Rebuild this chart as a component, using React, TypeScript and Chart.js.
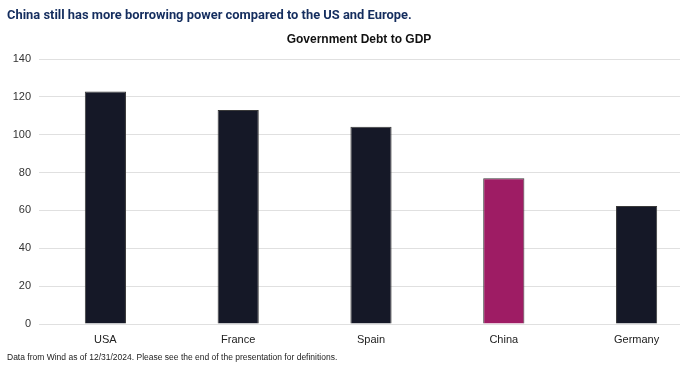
import React, { useEffect, useRef } from "react";
import { Chart, registerables } from "chart.js";

Chart.register(...registerables);

const categories = ["USA", "France", "Spain", "China", "Germany"];
const debtToGdp = [122.8, 113, 104.2, 77, 62.3];
const barColors = ["#151827", "#151827", "#151827", "#9E1C64", "#151827"];
const yTicks = [0, 20, 40, 60, 80, 100, 120, 140];

const headline = "China still has more borrowing power compared to the US and Europe.";
const chartTitle = "Government Debt to GDP";
const footnote = "Data from Wind as of 12/31/2024. Please see the end of the presentation for definitions.";

export default function App() {
  const ref = useRef<HTMLCanvasElement | null>(null);

  useEffect(() => {
    if (!ref.current) return;
    const chart = new Chart(ref.current, {
      type: "bar",
      data: {
        labels: categories,
        datasets: [
          {
            data: debtToGdp,
            backgroundColor: barColors,
            borderColor: "#3a3a3a",
            borderWidth: 1,
            categoryPercentage: 1,
            barPercentage: 0.31,
          },
        ],
      },
      options: {
        animation: false,
        responsive: false,
        maintainAspectRatio: false,
        layout: { padding: { top: 59, left: 0, right: 0, bottom: 0 } },
        plugins: { legend: { display: false }, tooltip: { enabled: false }, title: { display: false } },
        scales: {
          x: {
            grid: { display: false, drawTicks: false },
            border: { display: false },
            ticks: { color: "#222", font: { family: "Liberation Sans", size: 11 }, padding: 9 },
            afterFit: (s: any) => {
              s.height = 41;
            },
          },
          y: {
            min: 0,
            max: 140,
            afterBuildTicks: (s: any) => {
              s.ticks = yTicks.map((v) => ({ value: v }));
            },
            grid: { color: "#e0e0e0", lineWidth: 1, drawTicks: false },
            border: { display: false },
            ticks: { color: "#333", font: { family: "Liberation Sans", size: 11 }, padding: 8 },
            afterFit: (s: any) => {
              s.width = 39;
            },
          },
        },
      },
    });
    return () => chart.destroy();
  }, []);

  return (
    <div
      style={{
        position: "fixed",
        left: 0,
        top: 0,
        width: 680,
        height: 365,
        overflow: "hidden",
        background: "#fff",
      }}
    >
      <canvas ref={ref} width={703} height={365} style={{ position: "absolute", left: 0, top: 0 }} />
      <div
        style={{
          position: "absolute",
          left: 7,
          top: 7,
          fontFamily: "Roboto",
          fontWeight: 700,
          fontSize: 12.9,
          color: "#142D5E",
          whiteSpace: "nowrap",
        }}
      >
        {headline}
      </div>
      <div
        style={{
          position: "absolute",
          left: 0,
          width: 718,
          top: 32,
          textAlign: "center",
          fontFamily: "Liberation Sans",
          fontWeight: 700,
          fontSize: 12,
          color: "#111",
          whiteSpace: "nowrap",
        }}
      >
        {chartTitle}
      </div>
      <div
        style={{
          position: "absolute",
          left: 7,
          top: 352,
          fontFamily: "Liberation Sans",
          fontSize: 8.5,
          color: "#222",
          whiteSpace: "nowrap",
        }}
      >
        {footnote}
      </div>
    </div>
  );
}
